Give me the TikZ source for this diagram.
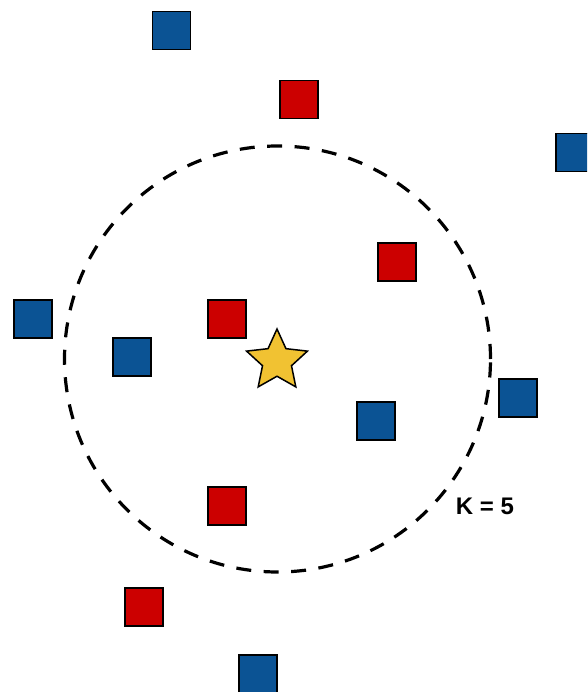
\documentclass[tikz,border=0pt]{standalone}
\usepackage{fontspec}
\setmainfont{Liberation Sans}
\usetikzlibrary{shapes.geometric}
\definecolor{ptblue}{HTML}{0B5394}
\definecolor{ptred}{HTML}{CC0000}
\definecolor{ptgold}{HTML}{F1C232}
\begin{document}
\begin{tikzpicture}[x=1pt,y=-1pt,
  sq/.style={draw=black,line width=1.6pt,minimum size=38pt,inner sep=0pt,outer sep=0pt},
  bsq/.style={sq,fill=ptblue},
  rsq/.style={sq,fill=ptred},
  ring/.style={draw=black,line width=3.2pt,dash pattern=on 15pt off 12.5pt},
  lbl/.style={font=\bfseries\fontsize{24}{28}\selectfont,inner sep=0pt}]
\useasboundingbox (0,0) rectangle (587,692);
\begin{scope}
\clip (0,0) rectangle (587,692);
\node[ring,circle,minimum size=426pt,inner sep=0pt] (ring) at (277.5,359) {};
\node[bsq] (b1) at (171.5,30.5) {};
\node[rsq] (r1) at (299,99.5) {};
\node[bsq] (b2) at (575,152.5) {};
\node[rsq] (r2) at (397,262) {};
\node[bsq] (b3) at (33,319) {};
\node[rsq] (r3) at (227,319) {};
\node[bsq] (b4) at (132,357) {};
\node[bsq] (b5) at (518,398) {};
\node[bsq] (b6) at (376,421) {};
\node[rsq] (r4) at (227,506) {};
\node[rsq] (r5) at (144,607) {};
\node[bsq] (b7) at (258,674) {};
\node[star,star points=5,star point ratio=2.1,minimum size=64pt,inner sep=0pt,draw=black,line width=1.5pt,fill=ptgold] (st) at (277,361) {};
\node[lbl] (k) at (485,506) {K = 5};
\end{scope}
\end{tikzpicture}
\end{document}
